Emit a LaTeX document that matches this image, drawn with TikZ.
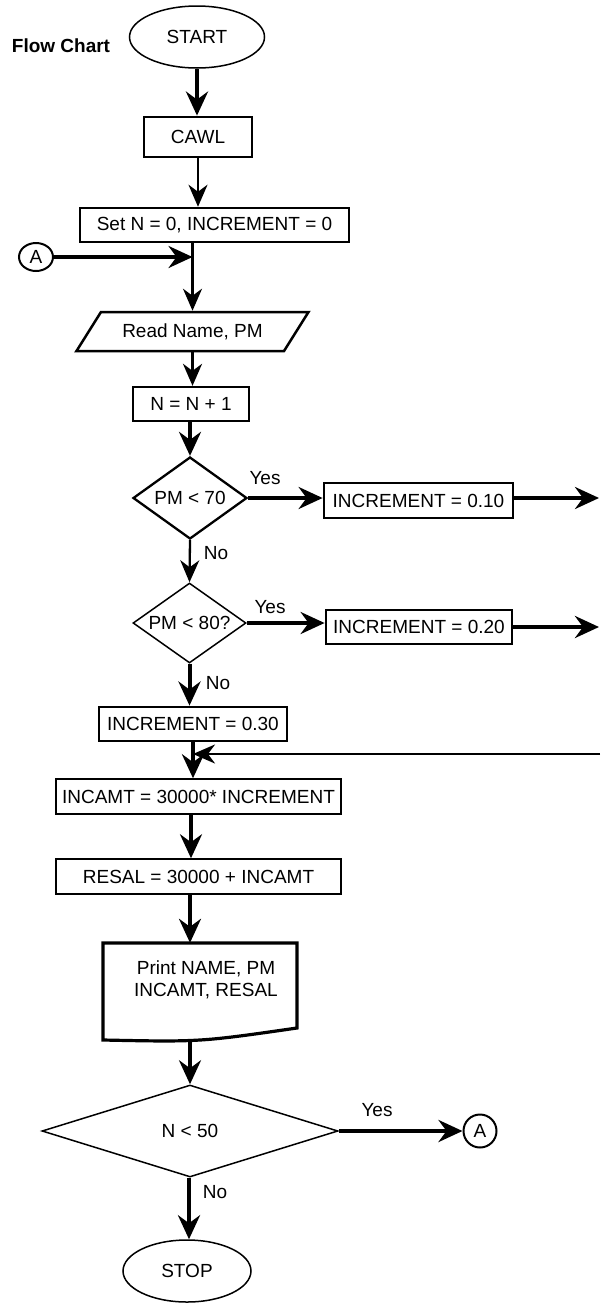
\documentclass[tikz,border=0pt]{standalone}
\usepackage{fontspec}
\setmainfont{Liberation Sans}
\usetikzlibrary{shapes.geometric,arrows.meta,calc}
\begin{document}
\begin{tikzpicture}[x=1pt,y=-1pt,
  every node/.style={font=\fontsize{19}{22}\selectfont, inner sep=0pt},
  thinb/.style={draw, line width=1.5pt},
  thickb/.style={draw, line width=2.8pt},
  arr/.style={-{Stealth[length=24pt,width=22pt,inset=8pt]}, line width=3.5pt},
  arrthin/.style={-{Stealth[length=22pt,width=19pt,inset=7pt]}, line width=2.3pt}
]
\useasboundingbox (0,0) rectangle (600,1304);

% title
\node[font=\bfseries\fontsize{19}{22}\selectfont] (title) at (61,45.5) {Flow Chart};

% nodes
\node[ellipse, thinb, minimum width=135pt, minimum height=62pt] (start) at (197,37) {START};
\node[rectangle, thickb, minimum width=108pt, minimum height=40pt] (cawl) at (198,137) {CAWL};
\node[rectangle, thickb, line width=2.5pt, minimum width=269pt, minimum height=34pt] (set) at (214.5,225) {Set N = 0, INCREMENT = 0};
\node[ellipse, draw, line width=2pt, minimum width=34pt, minimum height=28pt] (a1) at (36,257) {A};
\node[trapezium, trapezium left angle=33.5, trapezium right angle=146.5, trapezium stretches body,
      thickb, line width=2.5pt, minimum width=232pt, minimum height=39pt] (read) at (192.5,331.5) {Read Name, PM};
\node[rectangle, thickb, line width=2.3pt, minimum width=116pt, minimum height=34pt] (n1) at (191,404) {N = N + 1};
\node[diamond, thickb, line width=2.3pt, aspect=1.39, minimum width=114pt, minimum height=82pt] (d70) at (190,498) {PM < 70};
\node[rectangle, thickb, minimum width=189pt, minimum height=35pt] (i10) at (418.5,500.5) {INCREMENT = 0.10};
\node[diamond, thinb, aspect=1.41, minimum width=113pt, minimum height=80pt] (d80) at (189.5,623) {PM < 80?};
\node[rectangle, thickb, minimum width=186pt, minimum height=34pt] (i20) at (419,627) {INCREMENT = 0.20};
\node[rectangle, thickb, minimum width=188pt, minimum height=34pt] (i30) at (193,724) {INCREMENT = 0.30};
\node[rectangle, thinb, minimum width=285pt, minimum height=35pt] (incamt) at (198.5,796.5) {INCAMT = 30000* INCREMENT};
\node[rectangle, thinb, minimum width=285pt, minimum height=35pt] (resal) at (198.5,876.5) {RESAL = 30000 + INCAMT};
\node[rectangle, align=center, minimum width=194pt, minimum height=74pt] (print) at (206,980) {Print NAME, PM\\INCAMT, RESAL};
\draw[line width=3.2pt] (103,943) -- (297,943) -- (297,1028) .. controls (200,1042) .. (103,1040) -- cycle;
\node[diamond, thinb, aspect=3.2, minimum width=296pt, minimum height=92pt] (n50) at (190,1131) {N < 50};
\node[circle, draw, line width=2pt, minimum size=33pt] (a2) at (480,1131) {A};
\node[ellipse, thinb, minimum width=128pt, minimum height=62pt] (stop) at (187,1271) {STOP};

% labels
\node (y70) at (265,478) {Yes};
\node (n70) at (216,553) {No};
\node (y80) at (270,607) {Yes};
\node (n80) at (218,683) {No};
\node (y50) at (377,1110) {Yes};
\node (no50) at (215,1192) {No};

% helper coordinates
\coordinate (ja) at (read.north |- a1.east);
\coordinate (e10) at (599,498);
\coordinate (e20) at (599,627);
\coordinate (rt) at (600,754);
\coordinate (jr) at (i30.south |- rt);
\coordinate (s191) at (191,0);
\coordinate (s190) at (190,0);
\coordinate (s189) at (189,0);
\coordinate (pb) at (190,1039);

% connectors
\draw[arr, line width=4pt] (start.south) -- (start.south |- cawl.north);
\draw[arrthin] (cawl.south) -- (cawl.south |- set.north);
\draw[arrthin] (set.south -| read.north) -- (read.north);
\draw[arr] (a1.east) -- (ja);
\draw[arrthin, line width=2.8pt] (read.south) -- (read.south |- n1.north);
\draw[arr] (n1.south -| d70.north) -- (d70.north);
\draw[arr] (d70.east) -- (d70.east -| i10.west);
\draw[arr] (i10.east |- e10) -- (e10);
\draw[arrthin] (d70.south) -- (d80.north);
\draw[arr] (d80.east) -- (d80.east -| i20.west);
\draw[arr, line width=4pt] (i20.east) -- (e20);
\draw[arr, line width=4pt] (d80.south) -- (d80.south |- i30.north);
\draw[arr, line width=4pt] (i30.south) -- (i30.south |- incamt.north);
\draw[arrthin] (rt) -- (jr);
\draw[arr] (incamt.south -| s191) -- (resal.north -| s191);
\draw[arr] (resal.south -| s190) -- (print.north -| s190);
\draw[arr] (pb) -- (n50.north -| s190);
\draw[arr, line width=4pt] (n50.east) -- (a2.west);
\draw[arr, line width=4pt] (n50.south -| s189) -- (stop.north -| s189);
\end{tikzpicture}
\end{document}
